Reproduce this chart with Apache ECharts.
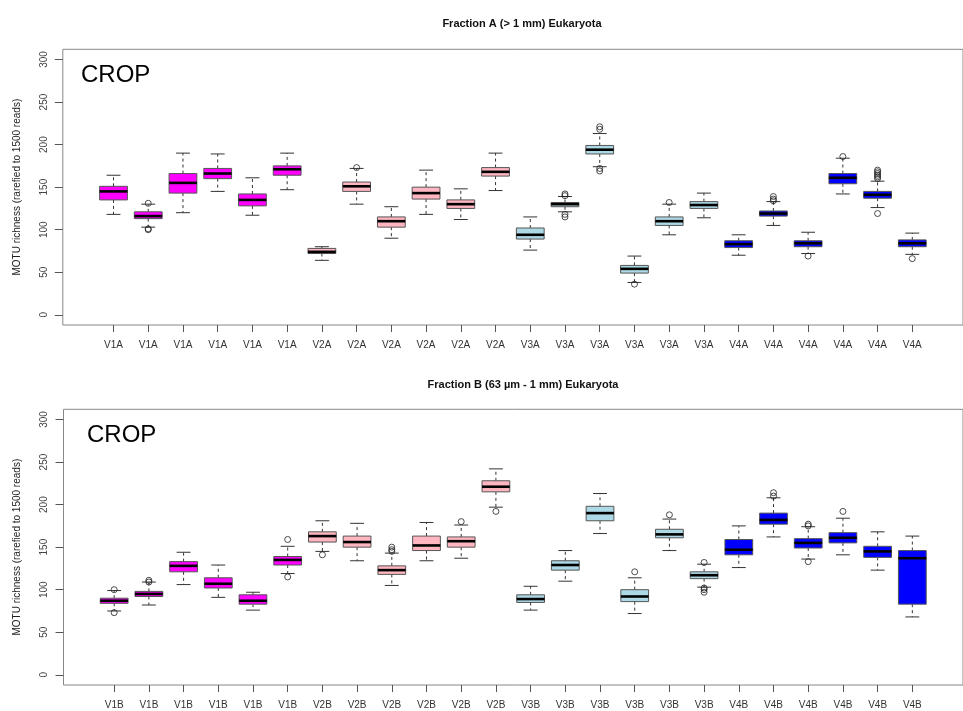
<!DOCTYPE html>
<html>
<head>
<meta charset="utf-8">
<script src="https://cdn.jsdelivr.net/npm/echarts@6/dist/echarts.min.js"></script>
<style>
  html, body { margin: 0; padding: 0; background: #fff; }
  #chart { width: 963px; height: 711px; }
</style>
</head>
<body>
<div id="chart"></div>
<script>
// Sample labels, one per box
const categoriesA = ['V1A','V1A','V1A','V1A','V1A','V1A','V2A','V2A','V2A','V2A','V2A','V2A',
                     'V3A','V3A','V3A','V3A','V3A','V3A','V4A','V4A','V4A','V4A','V4A','V4A'];
const categoriesB = ['V1B','V1B','V1B','V1B','V1B','V1B','V2B','V2B','V2B','V2B','V2B','V2B',
                     'V3B','V3B','V3B','V3B','V3B','V3B','V4B','V4B','V4B','V4B','V4B','V4B'];

// Box statistics per sample: [lower whisker, Q1, median, Q3, upper whisker]
const statsA = [
  [118, 135, 145, 151, 164], [103, 113, 116, 121, 130], [120, 143, 155, 166, 190],
  [145, 160, 166, 172, 189], [117, 128, 135, 142, 161], [147, 164, 171, 175, 190],
  [64, 72, 74, 78, 80],      [130, 145, 151, 156, 172], [90, 103, 110, 115, 127],
  [118, 136, 143, 150, 170], [112, 125, 130, 135, 148], [146, 163, 168, 173, 190],
  [76, 89, 94, 102, 115],    [121, 127, 130, 132, 139], [174, 189, 194, 199, 213],
  [38, 49, 54, 58, 69],      [94, 105, 110, 115, 130],  [114, 125, 129, 133, 143],
  [70, 79, 83, 87, 94],      [105, 116, 119, 122, 133], [72, 80, 84, 87, 97],
  [142, 154, 161, 166, 184], [126, 137, 141, 145, 157], [71, 80, 84, 88, 96]
];
const statsB = [
  [75, 84, 87, 90, 99],      [82, 92, 95, 98, 109],     [106, 121, 128, 133, 144],
  [91, 102, 107, 114, 129],  [76, 83, 87, 94, 97],      [119, 129, 135, 139, 151],
  [145, 156, 163, 168, 181], [134, 150, 156, 163, 178], [105, 118, 123, 128, 143],
  [134, 146, 152, 163, 179], [137, 150, 157, 162, 176], [197, 215, 221, 228, 242],
  [76, 85, 89, 94, 104],     [110, 123, 129, 134, 146], [166, 181, 190, 198, 213],
  [72, 86, 92, 100, 114],    [146, 161, 165, 171, 183], [103, 113, 117, 121, 130],
  [126, 141, 147, 159, 175], [162, 177, 182, 190, 208], [136, 149, 155, 160, 174],
  [141, 155, 161, 167, 184], [123, 138, 145, 151, 168], [68, 83, 137, 146, 163]
];

// Outliers: [box number (1-based), value]
const outliersA = [
  [2, 131], [2, 101], [2, 100], [8, 173],
  [14, 142], [14, 140], [14, 118], [14, 115],
  [15, 221], [15, 218], [15, 172], [15, 169], [16, 36], [17, 132],
  [20, 139], [20, 136], [20, 134], [21, 69], [22, 186],
  [23, 170], [23, 168], [23, 166], [23, 164], [23, 162], [23, 160], [23, 119], [24, 66]
];
const outliersB = [
  [1, 100], [1, 73], [2, 111], [2, 109], [6, 159], [6, 115], [7, 141],
  [9, 150], [9, 147], [9, 145], [11, 180], [12, 192], [16, 121], [17, 188],
  [18, 132], [18, 102], [18, 100], [18, 97], [20, 214], [20, 210],
  [21, 177], [21, 175], [21, 133], [22, 192]
];

// Y axis tick values
const yTicks = [0, 50, 100, 150, 200, 250, 300];

// Fill colour for each sample group (V1..V4)
const groupColors = { V1: '#ff00ff', V2: '#ffb6c1', V3: '#add8e6', V4: '#0000ff' };

const xPositions = categoriesA.map((_, i) => i + 1);

function boxData(stats) {
  return stats.map((s, i) => [i + 1, s[0], s[1], s[2], s[3], s[4]]);
}

function renderBox(categories) {
  return function (params, api) {
    const x = api.value(0);
    const lo = api.coord([x, api.value(1)]);
    const q1 = api.coord([x, api.value(2)]);
    const md = api.coord([x, api.value(3)]);
    const q3 = api.coord([x, api.value(4)]);
    const hi = api.coord([x, api.value(5)]);
    const half = api.size([0.8, 0])[0] / 2;
    const cap = half / 2;
    const cx = lo[0];
    const fill = groupColors[categories[x - 1].slice(0, 2)];
    const dash = { stroke: '#333', lineWidth: 1, lineDash: [3, 3] };
    const solid = { stroke: '#333', lineWidth: 1 };
    return {
      type: 'group',
      children: [
        { type: 'line', shape: { x1: cx, y1: q3[1], x2: cx, y2: hi[1] }, style: dash },
        { type: 'line', shape: { x1: cx, y1: q1[1], x2: cx, y2: lo[1] }, style: dash },
        { type: 'line', shape: { x1: cx - cap, y1: hi[1], x2: cx + cap, y2: hi[1] }, style: solid },
        { type: 'line', shape: { x1: cx - cap, y1: lo[1], x2: cx + cap, y2: lo[1] }, style: solid },
        { type: 'rect', shape: { x: cx - half, y: q3[1], width: half * 2, height: q1[1] - q3[1] },
          style: { fill: fill, stroke: '#555', lineWidth: 1 } },
        { type: 'line', shape: { x1: cx - half, y1: md[1], x2: cx + half, y2: md[1] },
          style: { stroke: '#000', lineWidth: 2.6 } }
      ]
    };
  };
}

function xAxisFor(gridIndex, categories) {
  return {
    type: 'value', gridIndex: gridIndex, min: -0.46, max: 25.46,
    axisLine: { show: false, onZero: false },
    splitLine: { show: false },
    axisTick: { show: true, inside: false, customValues: xPositions, length: 7, lineStyle: { color: '#555' } },
    axisLabel: {
      customValues: xPositions, margin: 15, color: '#333', fontSize: 10,
      fontFamily: 'Liberation Sans, Arial, sans-serif',
      formatter: v => categories[Math.round(v) - 1]
    }
  };
}

function yAxisFor(gridIndex) {
  return {
    type: 'value', gridIndex: gridIndex, min: -12, max: 312,
    axisLine: { show: false, onZero: false },
    splitLine: { show: false },
    axisTick: { show: true, inside: false, customValues: yTicks, length: 8, lineStyle: { color: '#555' } },
    axisLabel: {
      customValues: yTicks, rotate: 90, margin: 14, color: '#444', fontSize: 10,
      fontFamily: 'Liberation Sans, Arial, sans-serif'
    },
    name: 'MOTU richness (rarefied to 1500 reads)',
    nameLocation: 'middle', nameGap: 41,
    nameTextStyle: { fontSize: 10, color: '#222', fontFamily: 'Liberation Sans, Arial, sans-serif' }
  };
}

const chart = echarts.init(document.getElementById('chart'), null, { renderer: 'canvas' });

const titleStyle = { fontSize: 11, fontWeight: 'bold', color: '#111',
                     fontFamily: 'Liberation Sans, Arial, sans-serif' };
const cropStyle = { fontSize: 24, fill: '#000', fontFamily: 'Liberation Sans, Arial, sans-serif' };

chart.setOption({
  animation: false,
  backgroundColor: '#fff',
  title: [
    { text: 'Fraction A (> 1 mm) Eukaryota', left: 517, top: 13, textAlign: 'center', textStyle: titleStyle },
    { text: 'Fraction B (63 µm - 1 mm) Eukaryota', left: 518, top: 374, textAlign: 'center', textStyle: titleStyle }
  ],
  grid: [
    { left: 62.8, right: -8, top: 49.3, height: 275.7, show: true, borderColor: '#888', borderWidth: 1, backgroundColor: 'transparent' },
    { left: 63.5, right: -9, top: 409.3, height: 275.7, show: true, borderColor: '#888', borderWidth: 1, backgroundColor: 'transparent' }
  ],
  xAxis: [xAxisFor(0, categoriesA), xAxisFor(1, categoriesB)],
  yAxis: [yAxisFor(0), yAxisFor(1)],
  graphic: [
    { type: 'text', left: 81, top: 63, style: Object.assign({ text: 'CROP' }, cropStyle) },
    { type: 'text', left: 87, top: 423, style: Object.assign({ text: 'CROP' }, cropStyle) }
  ],
  series: [
    { type: 'custom', xAxisIndex: 0, yAxisIndex: 0, data: boxData(statsA),
      renderItem: renderBox(categoriesA), encode: { x: 0, y: [1, 2, 3, 4, 5] } },
    { type: 'custom', xAxisIndex: 1, yAxisIndex: 1, data: boxData(statsB),
      renderItem: renderBox(categoriesB), encode: { x: 0, y: [1, 2, 3, 4, 5] } },
    { type: 'scatter', xAxisIndex: 0, yAxisIndex: 0, data: outliersA, symbol: 'circle', symbolSize: 6,
      itemStyle: { color: 'rgba(255,255,255,0)', borderColor: '#222', borderWidth: 1 } },
    { type: 'scatter', xAxisIndex: 1, yAxisIndex: 1, data: outliersB, symbol: 'circle', symbolSize: 6,
      itemStyle: { color: 'rgba(255,255,255,0)', borderColor: '#222', borderWidth: 1 } }
  ]
});
</script>
</body>
</html>
